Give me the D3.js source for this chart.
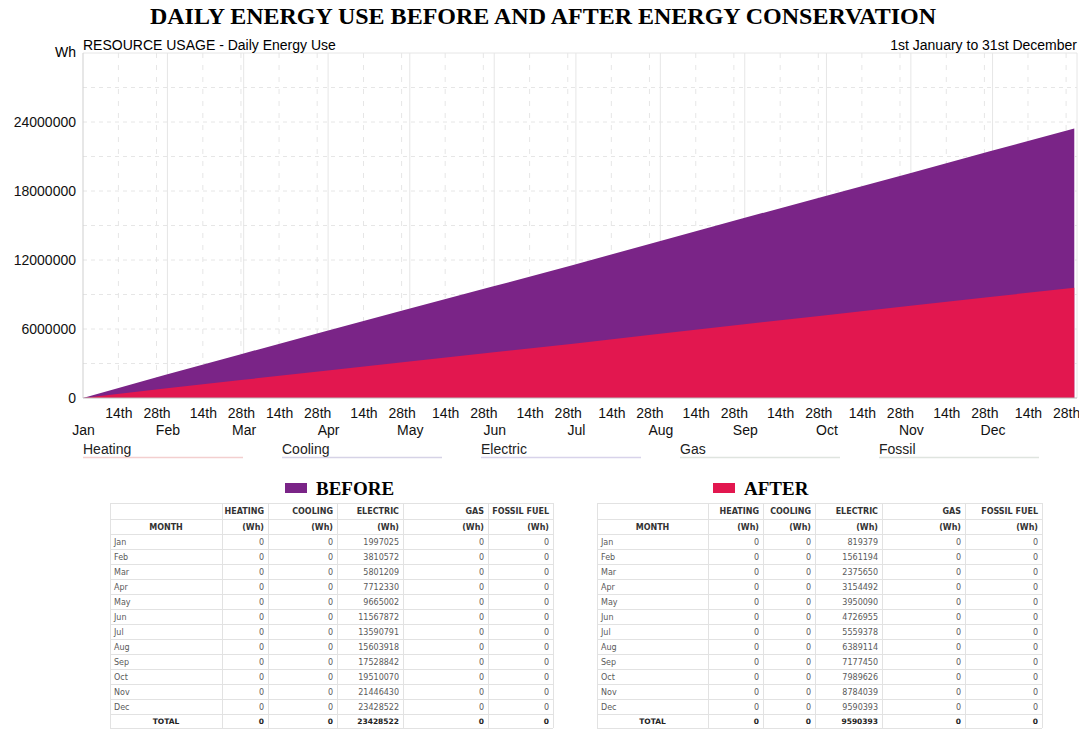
<!DOCTYPE html>
<html>
<head>
<meta charset="utf-8">
<script src="https://cdn.jsdelivr.net/npm/d3@7"></script>
<style>
  body { margin: 0; background: #fff; }
  #wrapper { width: 1079px; height: 731px; }
</style>
</head>
<body>
<div id="wrapper"></div>
<script>
// data
const months = ["Jan", "Feb", "Mar", "Apr", "May", "Jun", "Jul", "Aug", "Sep", "Oct", "Nov", "Dec"]
const beforeElectric = [1997025, 3810572, 5801209, 7712330, 9665002, 11567872, 13590791, 15603918, 17528842, 19510070, 21446430, 23428522]
const afterElectric = [819379, 1561194, 2375650, 3154492, 3950090, 4726955, 5559378, 6389114, 7177450, 7989626, 8784039, 9590393]
const heatingUse = [0, 0, 0, 0, 0, 0, 0, 0, 0, 0, 0, 0]
const coolingUse = [0, 0, 0, 0, 0, 0, 0, 0, 0, 0, 0, 0]
const gasUse = [0, 0, 0, 0, 0, 0, 0, 0, 0, 0, 0, 0]
const fossilUse = [0, 0, 0, 0, 0, 0, 0, 0, 0, 0, 0, 0]
const yTicks = [0, 6000000, 12000000, 18000000, 24000000]
const dayTicks = [14, 28]
const legendNames = ["Heating", "Cooling", "Electric", "Gas", "Fossil"]
const tableHeads = ["HEATING", "COOLING", "ELECTRIC", "GAS", "FOSSIL FUEL"]

function drawChart() {

    const year = 2023
    const width = 1079
    let dimensions = {
      width: width,
      height: 731,
      margin: {
        top: 53,
        right: 2,
        bottom: 333,
        left: 83,
      },
    }
    dimensions.boundedWidth = dimensions.width
      - dimensions.margin.left
      - dimensions.margin.right
    dimensions.boundedHeight = dimensions.height
      - dimensions.margin.top
      - dimensions.margin.bottom

    const colors = {
      before: "#7a2487",
      after: "#e2174f",
      grid: "#e6e6e6",
    }
    const legendColors = ["#f3cfcf", "#d6d3e6", "#d8d3ea", "#dfe4df", "#dfe4df"]
    const sans = "'Liberation Sans', Arial, sans-serif"
    const serif = "'Liberation Serif', 'Times New Roman', serif"
    const tableFont = "'DejaVu Sans', Verdana, sans-serif"

    const wrapper = d3.select("#wrapper")
        .append("svg")
        .attr("width", dimensions.width)
        .attr("height", dimensions.height)

    wrapper.append("text")
        .attr("x", 543)
        .attr("y", 24)
        .attr("text-anchor", "middle")
        .style("font-family", serif)
        .style("font-weight", "bold")
        .style("font-size", "24px")
        .text("DAILY ENERGY USE BEFORE AND AFTER ENERGY CONSERVATION")

    const bounds = wrapper.append("g")
        .attr("transform", `translate(${dimensions.margin.left}, ${dimensions.margin.top})`)

    // scales
    const xScaler = d3.scaleUtc()
        .domain([new Date(Date.UTC(year, 0, 1)), new Date(Date.UTC(year + 1, 0, 1))])
        .range([0, dimensions.boundedWidth])

    const yScaler = d3.scaleLinear()
        .domain([0, 30000000])
        .range([dimensions.boundedHeight, 0])

    // grid
    const gridLines = bounds.append("g")
    const halfSteps = d3.range(0, 30000001, 3000000)
    gridLines.selectAll(".hgrid")
        .data(halfSteps.slice(1))
        .join("line")
        .attr("x1", 0)
        .attr("x2", dimensions.boundedWidth)
        .attr("y1", d => yScaler(d))
        .attr("y2", d => yScaler(d))
        .attr("stroke", colors.grid)
        .attr("stroke-dasharray", d => d === 30000000 ? null : "4 4")

    const monthStarts = months.map((m, i) => new Date(Date.UTC(year, i, 1)))
    gridLines.selectAll(".mgrid")
        .data(monthStarts.slice(1).concat([new Date(Date.UTC(year + 1, 0, 1))]))
        .join("line")
        .attr("x1", d => xScaler(d))
        .attr("x2", d => xScaler(d))
        .attr("y1", 0)
        .attr("y2", dimensions.boundedHeight)
        .attr("stroke", colors.grid)

    const dayDates = []
    months.forEach((m, i) => dayTicks.forEach(day => dayDates.push(new Date(Date.UTC(year, i, day)))))
    gridLines.selectAll(".dgrid")
        .data(dayDates)
        .join("line")
        .attr("x1", d => xScaler(d))
        .attr("x2", d => xScaler(d))
        .attr("y1", 0)
        .attr("y2", dimensions.boundedHeight)
        .attr("stroke", colors.grid)
        .attr("stroke-dasharray", "5 7")

    // areas, cumulative at each month's last day
    const toPoints = values => [{ date: new Date(Date.UTC(year, 0, 1)), value: 0 }]
        .concat(values.map((v, i) => ({ date: new Date(Date.UTC(year, i + 1, 0)), value: v })))

    const areaGenerator = d3.area()
        .x(d => xScaler(d.date))
        .y0(yScaler(0))
        .y1(d => yScaler(d.value))

    bounds.append("path")
        .datum(toPoints(beforeElectric))
        .attr("d", areaGenerator)
        .attr("fill", colors.before)

    bounds.append("path")
        .datum(toPoints(afterElectric))
        .attr("d", areaGenerator)
        .attr("fill", colors.after)

    // axis lines
    bounds.append("line")
        .attr("x1", 0).attr("x2", 0)
        .attr("y1", 0).attr("y2", dimensions.boundedHeight)
        .attr("stroke", "#cfcfcf")
    bounds.append("line")
        .attr("x1", 0).attr("x2", dimensions.boundedWidth)
        .attr("y1", dimensions.boundedHeight).attr("y2", dimensions.boundedHeight)
        .attr("stroke", "#bbb")

    // y axis
    const yAxis = bounds.append("g")
        .call(d3.axisLeft(yScaler).tickValues(yTicks).tickSize(0).tickPadding(7).tickFormat(d3.format("d")))
    yAxis.select(".domain").remove()
    yAxis.selectAll("text")
        .style("font-family", sans)
        .style("font-size", "14px")
        .attr("fill", "#111")

    bounds.append("text")
        .attr("x", -7)
        .attr("y", yScaler(30000000) + 4)
        .attr("text-anchor", "end")
        .style("font-family", sans)
        .style("font-size", "14px")
        .text("Wh")

    // x axis: day ticks and month names
    const dayAxis = bounds.append("g")
        .attr("transform", `translate(0, ${dimensions.boundedHeight})`)
        .call(d3.axisBottom(xScaler).tickValues(dayDates).tickSize(0).tickPadding(10)
          .tickFormat(d => d.getUTCDate() + "th"))
    dayAxis.select(".domain").remove()
    dayAxis.selectAll("text")
        .style("font-family", sans)
        .style("font-size", "14px")
        .attr("fill", "#111")

    const monthAxis = bounds.append("g")
        .attr("transform", `translate(0, ${dimensions.boundedHeight})`)
        .call(d3.axisBottom(xScaler).tickValues(monthStarts).tickSize(0).tickPadding(27)
          .tickFormat(d => months[d.getUTCMonth()]))
    monthAxis.select(".domain").remove()
    monthAxis.selectAll("text")
        .style("font-family", sans)
        .style("font-size", "14px")
        .attr("fill", "#111")

    // headings above plot
    bounds.append("text")
        .attr("x", 0)
        .attr("y", -3)
        .style("font-family", sans)
        .style("font-size", "14px")
        .text("RESOURCE USAGE - Daily Energy Use")

    bounds.append("text")
        .attr("x", dimensions.boundedWidth)
        .attr("y", -3)
        .attr("text-anchor", "end")
        .style("font-family", sans)
        .style("font-size", "14px")
        .text("1st January to 31st December")

    // resource legend
    const legend = wrapper.append("g")
        .attr("transform", `translate(${dimensions.margin.left}, 454)`)
    const legendItems = legend.selectAll("g")
        .data(legendNames)
        .join("g")
        .attr("transform", (d, i) => `translate(${i * 199}, 0)`)
    legendItems.append("text")
        .style("font-family", sans)
        .style("font-size", "14px")
        .attr("fill", "#222")
        .text(d => d)
    legendItems.append("line")
        .attr("x1", 0).attr("x2", 160)
        .attr("y1", 3.5).attr("y2", 3.5)
        .attr("stroke", (d, i) => legendColors[i])
        .attr("stroke-width", 1.5)

    // tables
    const tables = [
      { name: "BEFORE", color: colors.before, electric: beforeElectric, swatchX: 285,
        cols: [110, 222, 268, 337, 403, 488, 553] },
      { name: "AFTER", color: colors.after, electric: afterElectric, swatchX: 713,
        cols: [597, 708, 763, 815, 882, 965, 1042] },
    ]
    const tableTop = 503
    const headH = [16, 15]
    const rowH = 15
    const totalH = 14

    tables.forEach(t => {
      const group = wrapper.append("g")

      group.append("rect")
          .attr("x", t.swatchX)
          .attr("y", 483)
          .attr("width", 22)
          .attr("height", 10)
          .attr("fill", t.color)
      group.append("text")
          .attr("x", t.swatchX + 31)
          .attr("y", 495)
          .style("font-family", serif)
          .style("font-weight", "bold")
          .style("font-size", "19px")
          .text(t.name)

      const series = [heatingUse, coolingUse, t.electric, gasUse, fossilUse]
      const rows = months.map((m, i) => [m].concat(series.map(s => s[i])))
      const totals = ["TOTAL"].concat(series.map(s => s[s.length - 1]))

      const rowTops = [tableTop, tableTop + headH[0]]
      let y = tableTop + headH[0] + headH[1]
      rows.forEach(() => { rowTops.push(y); y += rowH })
      rowTops.push(y)
      const tableBottom = y + totalH

      // borders
      group.selectAll(".hline")
          .data(rowTops.concat([tableBottom]))
          .join("line")
          .attr("x1", t.cols[0]).attr("x2", t.cols[6])
          .attr("y1", d => d + 0.5).attr("y2", d => d + 0.5)
          .attr("stroke", "#e2e2e2")
      group.selectAll(".vline")
          .data(t.cols)
          .join("line")
          .attr("x1", d => d + 0.5).attr("x2", d => d + 0.5)
          .attr("y1", tableTop).attr("y2", tableBottom)
          .attr("stroke", "#e2e2e2")

      const cellText = (sel, rowTop, h) => sel
          .attr("y", rowTop + h / 2 + 3)
          .style("font-family", tableFont)

      // header rows
      group.selectAll(".head1")
          .data(tableHeads)
          .join("text")
          .attr("x", (d, i) => t.cols[i + 2] - 4)
          .attr("text-anchor", "end")
          .call(cellText, rowTops[0], headH[0])
          .style("font-size", "8px")
          .style("font-weight", "bold")
          .attr("fill", "#333")
          .text(d => d)

      group.append("text")
          .attr("x", (t.cols[0] + t.cols[1]) / 2)
          .attr("text-anchor", "middle")
          .call(cellText, rowTops[1], headH[1])
          .style("font-size", "8px")
          .style("font-weight", "bold")
          .attr("fill", "#333")
          .text("MONTH")

      group.selectAll(".head2")
          .data(tableHeads)
          .join("text")
          .attr("x", (d, i) => t.cols[i + 2] - 4)
          .attr("text-anchor", "end")
          .call(cellText, rowTops[1], headH[1])
          .style("font-size", "8px")
          .style("font-weight", "bold")
          .attr("fill", "#333")
          .text("(Wh)")

      // body rows
      rows.concat([totals]).forEach((row, r) => {
        const isTotal = r === rows.length
        const top = rowTops[r + 2]
        const h = isTotal ? totalH : rowH
        group.selectAll(null)
            .data(row)
            .join("text")
            .attr("x", (d, i) => i === 0
              ? (isTotal ? (t.cols[0] + t.cols[1]) / 2 : t.cols[0] + 4)
              : t.cols[i + 1] - 4)
            .attr("text-anchor", (d, i) => i === 0 ? (isTotal ? "middle" : "start") : "end")
            .call(cellText, top, h)
            .style("font-size", isTotal ? "7.5px" : "8px")
            .style("font-weight", isTotal ? "bold" : "normal")
            .attr("fill", isTotal ? "#222" : "#5a5a5a")
            .text(d => d)
      })
    })
}

drawChart()
</script>
</body>
</html>
